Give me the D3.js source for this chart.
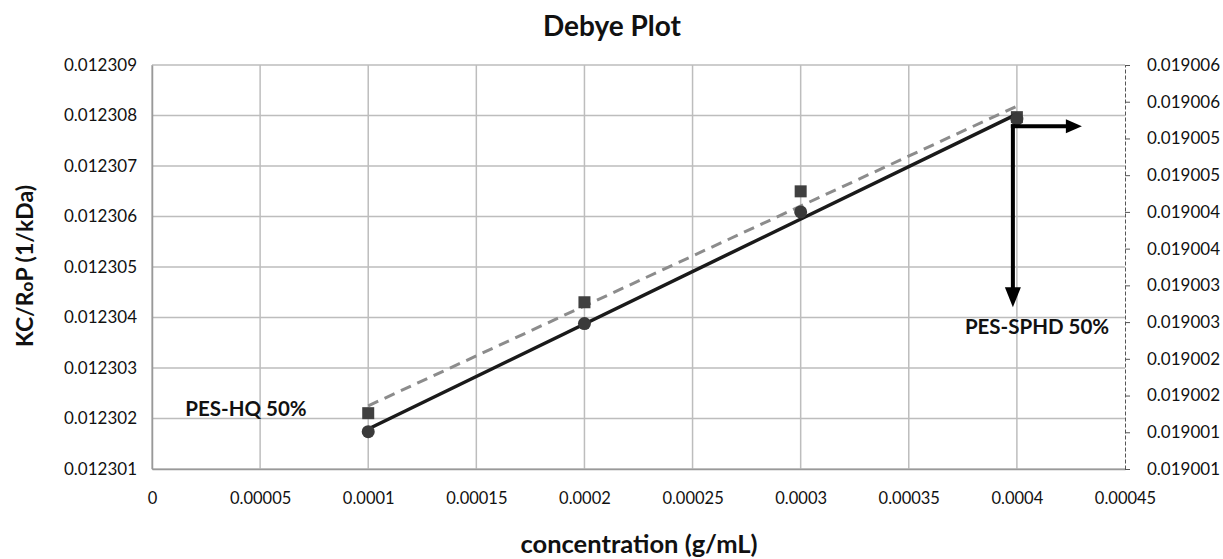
<!DOCTYPE html>
<html>
<head>
<meta charset="utf-8">
<script src="https://cdn.jsdelivr.net/npm/d3@7"></script>
<style>
  body { margin: 0; background: #fff; }
  text { font-family: Lato, "Open Sans", sans-serif; fill: #111; }
</style>
</head>
<body>
<svg id="chart" width="1223" height="559"></svg>
<script>
// data
const concentrations = [0.0001, 0.0002, 0.0003, 0.0004];
const hqValues = [0.01230174, 0.01230388, 0.01230609, 0.01230793];     // circles, left axis
const sphdValues = [0.01900126, 0.01900277, 0.01900428, 0.01900529];   // squares, right axis

const xTicks = [0, 0.00005, 0.0001, 0.00015, 0.0002, 0.00025, 0.0003, 0.00035, 0.0004, 0.00045];
const xTickLabels = ["0", "0.00005", "0.0001", "0.00015", "0.0002", "0.00025", "0.0003", "0.00035", "0.0004", "0.00045"];
const leftTicks = [0.012301, 0.012302, 0.012303, 0.012304, 0.012305, 0.012306, 0.012307, 0.012308, 0.012309];
const leftTickLabels = ["0.012301", "0.012302", "0.012303", "0.012304", "0.012305", "0.012306", "0.012307", "0.012308", "0.012309"];
const rightTicks = [0.0190005, 0.019001, 0.0190015, 0.019002, 0.0190025, 0.019003, 0.0190035, 0.019004, 0.0190045, 0.019005, 0.0190055, 0.019006];
const rightTickLabels = ["0.019001", "0.019001", "0.019002", "0.019002", "0.019003", "0.019003", "0.019004", "0.019004", "0.019005", "0.019005", "0.019006", "0.019006"];

let plotLeft = 152, plotRight = 1125, plotTop = 65, plotBottom = 469;
let svg = d3.select("#chart");

let x = d3.scaleLinear().domain([0, 0.00045]).range([plotLeft, plotRight]);
let yL = d3.scaleLinear().domain([0.012301, 0.012309]).range([plotBottom, plotTop]);
let yR = d3.scaleLinear().domain([0.0190005, 0.019006]).range([plotBottom, plotTop]);

// grid
svg.append("g").selectAll("line").data(leftTicks).enter().append("line")
    .attr("x1", plotLeft).attr("x2", plotRight)
    .attr("y1", d => yL(d)).attr("y2", d => yL(d))
    .attr("stroke", "#bdbdbd").attr("stroke-width", 1.5);
svg.append("g").selectAll("line").data(xTicks.slice(0, -1)).enter().append("line")
    .attr("x1", d => x(d)).attr("x2", d => x(d))
    .attr("y1", plotTop).attr("y2", plotBottom)
    .attr("stroke", "#bdbdbd").attr("stroke-width", 1.5);

// X axis
let xAxis = svg.append("g")
    .attr("transform", "translate(0," + plotBottom + ")")
    .call(d3.axisBottom(x).tickValues(xTicks).tickFormat((d, i) => xTickLabels[i]).tickSize(0).tickPadding(23));
xAxis.select(".domain").attr("stroke", "#999").attr("stroke-width", 1.5);
xAxis.selectAll("text").style("font-size", "16.5px").style("font-family", "Lato, sans-serif").attr("fill", "#111");

// left axis
let yAxisL = svg.append("g")
    .attr("transform", "translate(" + plotLeft + ",0)")
    .call(d3.axisLeft(yL).tickValues(leftTicks).tickFormat((d, i) => leftTickLabels[i]).tickSize(0).tickPadding(15));
yAxisL.select(".domain").attr("stroke", "#999").attr("stroke-width", 1.5);
yAxisL.selectAll("text").style("font-size", "17px").style("font-family", "Lato, sans-serif").attr("fill", "#111");

// right axis (dashed)
let yAxisR = svg.append("g")
    .attr("transform", "translate(" + plotRight + ",0)")
    .call(d3.axisRight(yR).tickValues(rightTicks).tickFormat((d, i) => rightTickLabels[i]).tickSize(5).tickSizeOuter(0).tickPadding(17));
yAxisR.select(".domain").attr("stroke", "#555").attr("stroke-dasharray", "4,2");
yAxisR.selectAll(".tick line").attr("stroke", "#555");
yAxisR.selectAll("text").style("font-size", "17px").style("font-family", "Lato, sans-serif").attr("fill", "#111");

// least squares trendlines
function fit(xs, ys) {
    let mx = d3.mean(xs), my = d3.mean(ys);
    let num = d3.sum(xs, (v, i) => (v - mx) * (ys[i] - my));
    let den = d3.sum(xs, v => (v - mx) * (v - mx));
    let b = num / den;
    return v => my + b * (v - mx);
}
let fHQ = fit(concentrations, hqValues);
let fSP = fit(concentrations, sphdValues);
let ends = [concentrations[0], concentrations[concentrations.length - 1]];

svg.append("path")
    .attr("d", d3.line().x(d => x(d)).y(d => yR(fSP(d)))(ends))
    .attr("fill", "none").attr("stroke", "#8c8c8c").attr("stroke-width", 3)
    .attr("stroke-dasharray", "11,7");

// squares (right axis)
svg.append("g").selectAll("rect").data(concentrations).enter().append("rect")
    .attr("x", d => x(d) - 6).attr("y", (d, i) => yR(sphdValues[i]) - 6)
    .attr("width", 12).attr("height", 12)
    .attr("fill", "#404040");

svg.append("path")
    .attr("d", d3.line().x(d => x(d)).y(d => yL(fHQ(d)))(ends))
    .attr("fill", "none").attr("stroke", "#1a1a1a").attr("stroke-width", 3.5);

// circles (left axis)
svg.append("g").selectAll("circle").data(concentrations).enter().append("circle")
    .attr("cx", d => x(d)).attr("cy", (d, i) => yL(hqValues[i]))
    .attr("r", 6.5)
    .attr("fill", "#3a3a3a");

// arrows pointing at the PES-SPHD point and the right axis
let ax = x(concentrations[3]) - 4;
let ay = yR(sphdValues[3]) + 9;
let arrows = svg.append("g");
arrows.append("line").attr("x1", ax).attr("x2", ax).attr("y1", ay - 2).attr("y2", ay + 163)
    .attr("stroke", "#000").attr("stroke-width", 4);
arrows.append("path")
    .attr("d", "M" + (ax - 8) + "," + (ay + 161) + "L" + (ax + 8) + "," + (ay + 161) + "L" + ax + "," + (ay + 181) + "Z")
    .attr("fill", "#000");
arrows.append("line").attr("x1", ax - 2).attr("x2", ax + 55).attr("y1", ay).attr("y2", ay)
    .attr("stroke", "#000").attr("stroke-width", 4);
arrows.append("path")
    .attr("d", "M" + (ax + 53) + "," + (ay - 7) + "L" + (ax + 69) + "," + ay + "L" + (ax + 53) + "," + (ay + 7) + "Z")
    .attr("fill", "#000");

// labels
svg.append("text").attr("x", 1037).attr("y", 334).attr("text-anchor", "middle")
    .style("font-size", "20.5px").style("font-weight", "bold").text("PES-SPHD 50%");
svg.append("text").attr("x", 246).attr("y", 416).attr("text-anchor", "middle")
    .style("font-size", "20.5px").style("font-weight", "bold").text("PES-HQ 50%");

svg.append("text").attr("x", 612).attr("y", 36).attr("text-anchor", "middle")
    .style("font-size", "28px").style("font-weight", "bold").text("Debye Plot");

svg.append("text").attr("x", 639).attr("y", 553).attr("text-anchor", "middle")
    .style("font-size", "25.5px").style("font-weight", "bold").text("concentration (g/mL)");

let yt = svg.append("text").attr("transform", "translate(33,266)rotate(-90)").attr("text-anchor", "middle")
    .style("font-size", "23px").style("font-weight", "bold");
yt.append("tspan").text("KC/R");
yt.append("tspan").style("font-size", "17px").text("o");
yt.append("tspan").text("P (1/kDa)");
</script>
</body>
</html>
